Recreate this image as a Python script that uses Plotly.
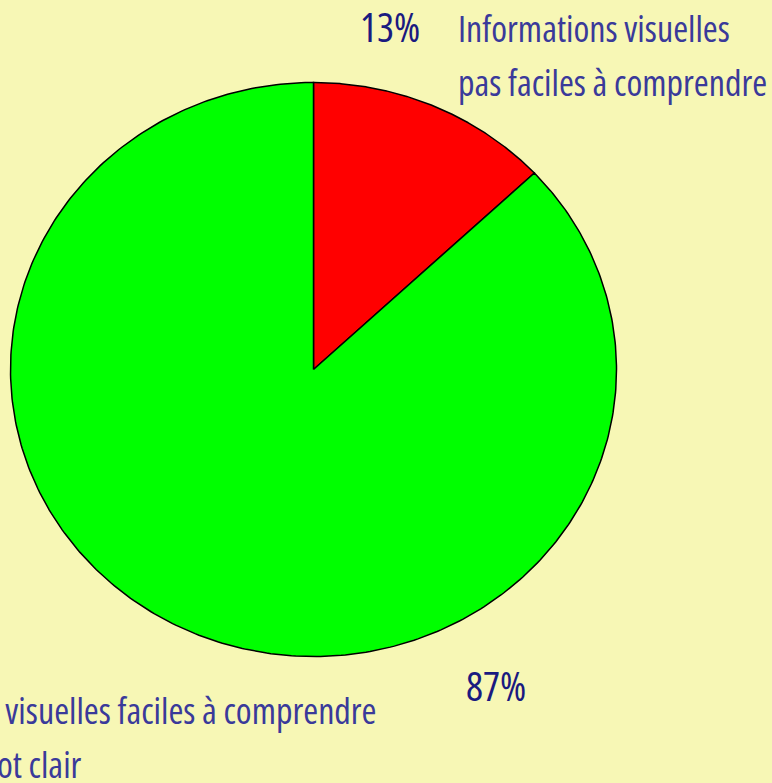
import numpy as np
import plotly.graph_objects as go

# Survey shares (percent)
categories = [
    "Informations visuelles pas faciles à comprendre",
    "Informations visuelles faciles à comprendre et mot clair",
]
values = [13, 87]
colors = ["#ff0000", "#00ff00"]
pct_labels = ["13%", "87%"]

W, H = 772, 783
CX, CY = 313.5, 369.5      # pie centre in pixels
RX, RY = 303.0, 287.0      # horizontal / vertical radii in pixels

# axis ranges chosen so one data unit = RX px horizontally and RY px vertically
x_range = [-CX / RX, (W - CX) / RX]
y_range = [-(H - CY) / RY, CY / RY]

fig = go.Figure()

total = float(sum(values))
start = 90.0  # start at 12 o'clock, go clockwise
for val, col, name in zip(values, colors, categories):
    sweep = val / total * 360.0
    ang = np.radians(np.linspace(start, start - sweep, 400))
    xs = np.concatenate([[0.0], np.cos(ang), [0.0]])
    ys = np.concatenate([[0.0], np.sin(ang), [0.0]])
    fig.add_trace(go.Scatter(
        x=xs, y=ys, mode="lines", fill="toself", fillcolor=col,
        line=dict(color="black", width=1.5), name=name,
        hoverinfo="name", showlegend=False,
    ))
    start -= sweep


def px(x):
    return x / W


def py(y):
    return 1 - y / H


def narrow(s):
    return '<span style="font-stretch:condensed">' + s + "</span>"


FAMILY = "'Open Sans', sans-serif"
PCT_FONT = dict(family=FAMILY, size=40, color="#1a1a80")
LAB_FONT = dict(family=FAMILY, size=36, color="#3a3a9a")

annotations = [
    dict(text=narrow(pct_labels[0]), x=px(390), y=py(27), xanchor="center", yanchor="middle", font=PCT_FONT),
    dict(text=narrow(pct_labels[1]), x=px(496), y=py(685), xanchor="center", yanchor="middle", font=PCT_FONT),
    dict(text=narrow("Informations visuelles"), x=px(456), y=py(29), xanchor="left", yanchor="middle", font=LAB_FONT),
    dict(text=narrow("pas faciles à comprendre"), x=px(456), y=py(83), xanchor="left", yanchor="middle", font=LAB_FONT),
    dict(text=narrow("Informations visuelles faciles à comprendre"), x=px(379), y=py(710), xanchor="right", yanchor="middle", font=LAB_FONT),
    dict(text=narrow("et mot clair"), x=px(84), y=py(764), xanchor="right", yanchor="middle", font=LAB_FONT),
]
for a in annotations:
    a.update(xref="paper", yref="paper", showarrow=False)

fig.update_layout(
    width=W, height=H,
    margin=dict(l=0, r=0, t=0, b=0),
    paper_bgcolor="#f7f7b5", plot_bgcolor="#f7f7b5",
    xaxis=dict(range=x_range, visible=False, fixedrange=True),
    yaxis=dict(range=y_range, visible=False, fixedrange=True),
    annotations=annotations,
    showlegend=False,
)

fig.write_html("out.html")
